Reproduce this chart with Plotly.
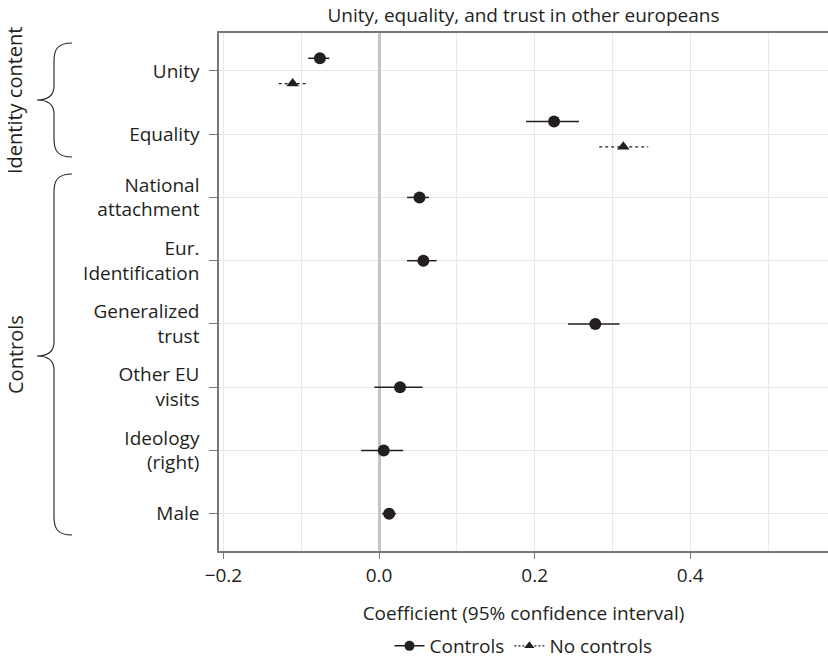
import plotly.graph_objects as go

# Coefficient estimates with 95% confidence intervals
categories = ["Unity", "Equality", "National<br>attachment", "Eur.<br>Identification",
              "Generalized<br>trust", "Other EU<br>visits", "Ideology<br>(right)", "Male"]

ctrl_est = [-0.076, 0.225, 0.052, 0.057, 0.278, 0.027, 0.006, 0.013]
ctrl_lo = [-0.091, 0.189, 0.036, 0.036, 0.243, -0.006, -0.023, 0.004]
ctrl_hi = [-0.064, 0.257, 0.064, 0.074, 0.309, 0.056, 0.031, 0.022]

noctrl_est = [-0.111, 0.314, None, None, None, None, None, None]
noctrl_lo = [-0.129, 0.283, None, None, None, None, None, None]
noctrl_hi = [-0.091, 0.346, None, None, None, None, None, None]

x_ticks = [-0.2, 0.0, 0.2, 0.4]
x_tick_text = ["\u22120.2", "0.0", "0.2", "0.4"]

FONT = "Open Sans"
FS = 19
TXT = "#231f20"
W, H = 828, 661
L, R, T, B = 219, 0, 33, 110

n = len(categories)
base = [n - i for i in range(n)]
dodge = 0.2
y_ctrl = [b + (dodge if ne is not None else 0) for b, ne in zip(base, noctrl_est)]
y_noctrl = [b - dodge if ne is not None else None for b, ne in zip(base, noctrl_est)]


def segments(lo, hi, ys):
    xs, yy = [], []
    for a, b, y in zip(lo, hi, ys):
        if a is None or y is None:
            continue
        xs += [a, b, None]
        yy += [y, y, None]
    return xs, yy


fig = go.Figure()

cx, cy = segments(ctrl_lo, ctrl_hi, y_ctrl)
fig.add_trace(go.Scatter(x=cx, y=cy, mode="lines", line=dict(color=TXT, width=1.5),
                         showlegend=False, hoverinfo="skip"))
nx, ny = segments(noctrl_lo, noctrl_hi, y_noctrl)
fig.add_trace(go.Scatter(x=nx, y=ny, mode="lines",
                         line=dict(color=TXT, width=1.3, dash="3px,3px"),
                         showlegend=False, hoverinfo="skip"))

fig.add_trace(go.Scatter(x=ctrl_est, y=y_ctrl, mode="markers",
                         marker=dict(symbol="circle", size=12, color=TXT),
                         showlegend=False))
fig.add_trace(go.Scatter(x=[v for v in noctrl_est if v is not None],
                         y=[v for v in y_noctrl if v is not None], mode="markers",
                         marker=dict(symbol="triangle-up", size=11, color=TXT),
                         showlegend=False))

# legend entries
fig.add_trace(go.Scatter(x=[None], y=[None], mode="lines+markers", name="Controls",
                         line=dict(color=TXT, width=1.5),
                         marker=dict(symbol="circle", size=10, color=TXT)))
fig.add_trace(go.Scatter(x=[None], y=[None], mode="lines+markers", name="No controls",
                         line=dict(color=TXT, width=1.3, dash="2px,2px"),
                         marker=dict(symbol="triangle-up", size=9, color=TXT)))

pw, ph = W - L - R, H - T - B


def px(xp, yp):
    return (xp - L) / pw, (H - B - yp) / ph


def brace(x_end, x_mid, x_tip, y_top, y_tip, y_bot):
    pts = [
        ("M", [(x_end, y_top)]),
        ("C", [(x_mid + 4, y_top), (x_mid, y_top + 6), (x_mid, y_top + 18)]),
        ("L", [(x_mid, y_tip - 14)]),
        ("C", [(x_mid, y_tip - 4), (x_tip + 10, y_tip), (x_tip, y_tip)]),
        ("C", [(x_tip + 10, y_tip), (x_mid, y_tip + 4), (x_mid, y_tip + 14)]),
        ("L", [(x_mid, y_bot - 18)]),
        ("C", [(x_mid, y_bot - 6), (x_mid + 4, y_bot), (x_end, y_bot)]),
    ]
    d = ""
    for cmd, ps in pts:
        d += cmd + " " + " ".join("%.5f,%.5f" % px(a, b) for a, b in ps) + " "
    return d


for y_top, y_tip, y_bot in [(43, 100, 157), (174, 356, 535)]:
    fig.add_shape(type="path", xref="paper", yref="paper",
                  path=brace(72, 54, 37, y_top, y_tip, y_bot),
                  line=dict(color=TXT, width=1.1))

for label, yp in [("Identity content", 101), ("Controls", 355)]:
    xa, ya = px(15, yp)
    fig.add_annotation(text=label, xref="paper", yref="paper", x=xa, y=ya,
                       textangle=-90, showarrow=False, xanchor="center", yanchor="middle",
                       font=dict(family=FONT, size=FS + 1, color=TXT))

fig.update_layout(
    width=W, height=H,
    margin=dict(l=L, r=R, t=T, b=B, autoexpand=False),
    plot_bgcolor="white", paper_bgcolor="white",
    font=dict(family=FONT, size=FS, color=TXT),
    title=dict(text="Unity, equality, and trust in other europeans", x=(W - R + L) / 2 / W,
               xanchor="center", y=1 - 15 / H, yanchor="middle",
               font=dict(family=FONT, size=FS, color=TXT)),
    legend=dict(orientation="h", x=0.5, xanchor="center", y=px(0, 646)[1],
                yanchor="middle", font=dict(family=FONT, size=FS, color=TXT),
                itemwidth=30),
    showlegend=True,
)

fig.update_xaxes(
    range=[-0.2057, 0.5771], tickvals=x_ticks, ticktext=x_tick_text,
    showgrid=True, gridcolor="#e8e8e8", gridwidth=1.2,
    minor=dict(dtick=0.1, showgrid=True, gridcolor="#e8e8e8", gridwidth=1.2),
    zeroline=True, zerolinecolor="#c4c4c8", zerolinewidth=3,
    showline=True, linecolor="#777777", linewidth=1.5, mirror=True,
    ticks="outside", ticklen=6, tickcolor="#777777", tickwidth=1.2,
    tickfont=dict(family=FONT, size=FS, color=TXT),
    title=dict(text="Coefficient (95% confidence interval)", standoff=20,
               font=dict(family=FONT, size=FS, color=TXT)),
)
fig.update_yaxes(
    range=[0.41, 8.6], tickvals=base, ticktext=categories,
    showgrid=True, gridcolor="#e8e8e8", gridwidth=1.2, zeroline=False,
    showline=True, linecolor="#777777", linewidth=1.5, mirror=False,
    ticks="outside", ticklen=8, tickcolor="#777777", tickwidth=1.2,
    ticklabelstandoff=6,
    tickfont=dict(family=FONT, size=FS, color=TXT),
)

fig.write_html("out.html")
